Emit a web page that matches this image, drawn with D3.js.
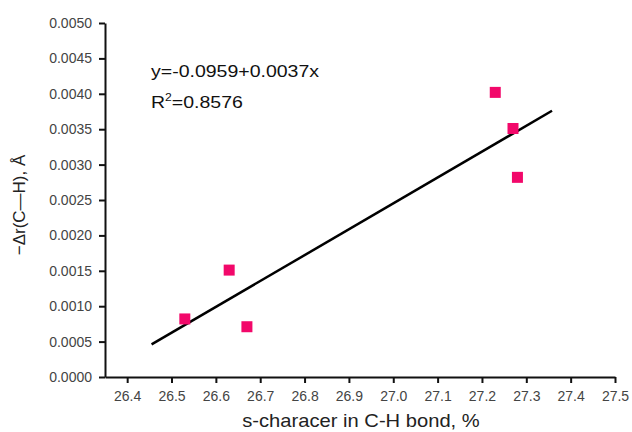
<!DOCTYPE html>
<html>
<head>
<meta charset="utf-8">
<script src="https://cdn.jsdelivr.net/npm/d3@7"></script>
<style>
  body { margin: 0; background: #fff; }
  svg { font-family: "Liberation Sans", Arial, sans-serif; }
</style>
</head>
<body>
<div id="chart"></div>
<script>
// measured points (s-character %, -delta r in A)
var sChar = [26.53, 26.63, 26.67, 27.23, 27.27, 27.28];
var deltaR = [0.00082, 0.00151, 0.00071, 0.00402, 0.00351, 0.00282];

// end points of the fitted line as drawn
var fitX = [26.455, 27.358];
var fitY = [0.00046, 0.00376];

var xTicks = [26.4, 26.5, 26.6, 26.7, 26.8, 26.9, 27.0, 27.1, 27.2, 27.3, 27.4, 27.5];
var yTicks = [0, 0.0005, 0.001, 0.0015, 0.002, 0.0025, 0.003, 0.0035, 0.004, 0.0045, 0.005];

var eqLine = "y=-0.0959+0.0037x";
var r2Value = "=0.8576";

function drawChart(){
    var w = 632;
    var h = 432;

    var xScale = d3.scaleLinear()
                    .domain([26.35, 27.5])
                    .range([105, 615]);

    var yScale = d3.scaleLinear()
                    .domain([0, 0.005])
                    .range([377, 23]);

    var svg = d3.select("#chart")
                .append("svg")
                .attr("width", w)
                .attr("height", h);

    var xAxis = d3.axisBottom(xScale)
                    .tickValues(xTicks)
                    .tickSize(6)
                    .tickPadding(8)
                    .tickSizeOuter(0)
                    .tickFormat(d3.format(".1f"));

    var yAxis = d3.axisLeft(yScale)
                    .tickValues(yTicks)
                    .tickSize(6)
                    .tickPadding(7)
                    .tickSizeOuter(0)
                    .tickFormat(d3.format(".4f"));

    var gx = svg.append("g")
        .attr("transform", "translate(0," + yScale(0) + ")")
        .call(xAxis);

    var gy = svg.append("g")
        .attr("transform", "translate(" + xScale(26.35) + ",0)")
        .call(yAxis);

    [gx, gy].forEach(function(g){
        g.select(".domain").attr("stroke", "#111").attr("stroke-width", 2);
        g.selectAll(".tick line").attr("stroke", "#111").attr("stroke-width", 2);
        g.selectAll(".tick text")
            .attr("fill", "#444")
            .style("font-size", "14px")
            .style("font-family", "'Liberation Sans', Arial, sans-serif");
    });

    // fitted line
    var line = d3.line()
        .x(function(d){ return xScale(d[0]); })
        .y(function(d){ return yScale(d[1]); });

    svg.append("path")
        .datum(d3.zip(fitX, fitY))
        .attr("d", line)
        .attr("fill", "none")
        .attr("stroke", "#000")
        .attr("stroke-width", 2.5);

    // points
    var sq = 11;
    svg.selectAll("rect.pt")
        .data(d3.zip(sChar, deltaR))
        .enter()
        .append("rect")
        .attr("class", "pt")
        .attr("x", function(d){ return xScale(d[0]) - sq / 2; })
        .attr("y", function(d){ return yScale(d[1]) - sq / 2; })
        .attr("width", sq)
        .attr("height", sq)
        .attr("fill", "#f2086a");

    // equation text
    var ann = svg.append("g")
        .attr("transform", "translate(151,0) scale(1.22,1)")
        .style("font-size", "16px")
        .attr("fill", "#111");
    ann.append("text")
        .attr("x", 0)
        .attr("y", 77)
        .text(eqLine);
    var r2 = ann.append("text")
        .attr("x", 0)
        .attr("y", 108);
    r2.append("tspan").text("R");
    r2.append("tspan").attr("dy", -7).style("font-size", "10px").text("2");
    r2.append("tspan").attr("dy", 7).text(r2Value);

    // axis titles
    svg.append("text")
        .attr("x", 361)
        .attr("y", 427)
        .attr("text-anchor", "middle")
        .attr("transform", "translate(361,0) scale(1.12,1) translate(-361,0)")
        .style("font-size", "18px")
        .attr("fill", "#222")
        .text("s-characer in C-H bond, %");

    svg.append("text")
        .attr("transform", "translate(25,205) rotate(-90)")
        .attr("text-anchor", "middle")
        .style("font-size", "17px")
        .attr("fill", "#222")
        .text("\u2212\u0394r(C\u2014H), \u00C5");
}

window.onload = drawChart;
</script>
</body>
</html>
